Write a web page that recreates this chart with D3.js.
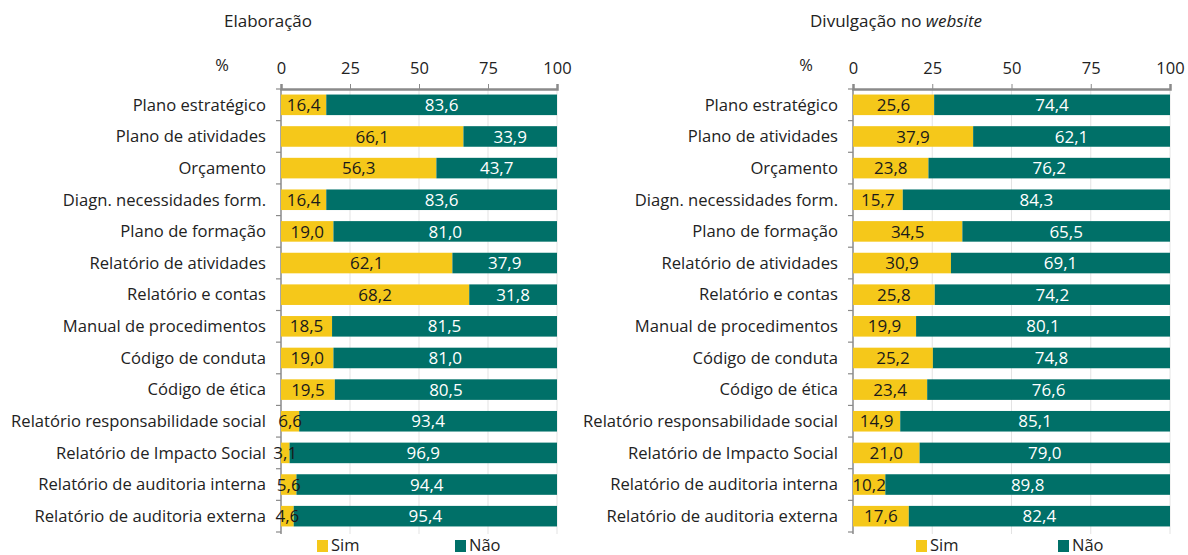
<!DOCTYPE html>
<html>
<head>
<meta charset="utf-8">
<script src="https://cdn.jsdelivr.net/npm/d3@7"></script>
<style>
  body { margin: 0; background: #fff; }
  svg text { font-family: "Open Sans", Lato, sans-serif; }
</style>
</head>
<body>
<div id="chart"></div>
<script>
// categories (top to bottom)
var categories = [
  "Plano estratégico", "Plano de atividades", "Orçamento", "Diagn. necessidades form.",
  "Plano de formação", "Relatório de atividades", "Relatório e contas", "Manual de procedimentos",
  "Código de conduta", "Código de ética", "Relatório responsabilidade social",
  "Relatório de Impacto Social", "Relatório de auditoria interna", "Relatório de auditoria externa"
];

// Elaboração
var elabSim = [16.4, 66.1, 56.3, 16.4, 19.0, 62.1, 68.2, 18.5, 19.0, 19.5, 6.6, 3.1, 5.6, 4.6];
var elabNao = [83.6, 33.9, 43.7, 83.6, 81.0, 37.9, 31.8, 81.5, 81.0, 80.5, 93.4, 96.9, 94.4, 95.4];

// Divulgação no website
var divSim = [25.6, 37.9, 23.8, 15.7, 34.5, 30.9, 25.8, 19.9, 25.2, 23.4, 14.9, 21.0, 10.2, 17.6];
var divNao = [74.4, 62.1, 76.2, 84.3, 65.5, 69.1, 74.2, 80.1, 74.8, 76.6, 85.1, 79.0, 89.8, 82.4];

var xTicks = [0, 25, 50, 75, 100];
var seriesNames = ["Sim", "Não"];

var yellow = "#f5c81a";
var teal = "#007068";

var width = 1188, height = 555;
var svg = d3.select("#chart").append("svg")
    .attr("width", width)
    .attr("height", height);

function fmt(v) { return v.toFixed(1).replace(".", ","); }

function drawPanel(p) {
  var g = svg.append("g");

  var x = d3.scaleLinear().domain([0, 100]).range([p.x0, p.x1]);
  var y = d3.scaleBand().domain(categories).range([89, 532]).paddingInner(0.35).paddingOuter(0.175);

  // title
  var t = g.append("text")
      .attr("x", p.titleX).attr("y", 27)
      .attr("text-anchor", "middle")
      .style("font-size", "17px").style("fill", "#222");
  t.append("tspan").text(p.title);
  if (p.titleItalic) t.append("tspan").style("font-style", "italic").text(p.titleItalic);

  // grid
  g.selectAll(".grid").data(xTicks.slice(1)).enter().append("line")
      .attr("x1", d => x(d)).attr("x2", d => x(d))
      .attr("y1", 89).attr("y2", 534)
      .attr("stroke", "#e3e3e3").attr("stroke-width", 1);

  // top axis
  var axis = g.append("g").attr("transform", "translate(0,89)")
      .call(d3.axisTop(x).tickValues(xTicks).tickSize(5).tickPadding(10));
  axis.select(".domain").attr("stroke", "#8a8a8a").attr("stroke-width", 2.5);
  axis.selectAll(".tick line").attr("stroke", "#8a8a8a");
  axis.selectAll(".tick text").style("font-size", "16.5px").style("fill", "#222")
      .style("font-family", "'Open Sans', sans-serif");
  g.append("text").attr("x", p.pctX).attr("y", 71).attr("text-anchor", "middle")
      .style("font-size", "16.5px").style("fill", "#222").text("%");

  // left axis line with ticks between categories
  g.append("line").attr("x1", p.x0).attr("x2", p.x0).attr("y1", 89).attr("y2", 534)
      .attr("stroke", "#8a8a8a").attr("stroke-width", 1.5);
  g.selectAll(".ytick").data(d3.range(categories.length + 1)).enter().append("line")
      .attr("x1", p.x0 - 5).attr("x2", p.x0)
      .attr("y1", i => 89 + i * (443 / categories.length))
      .attr("y2", i => 89 + i * (443 / categories.length))
      .attr("stroke", "#8a8a8a").attr("stroke-width", 1.2);

  // category labels
  g.selectAll(".cat").data(categories).enter().append("text")
      .attr("x", p.x0 - 15).attr("y", d => y(d) + y.bandwidth() / 2)
      .attr("dy", "0.35em").attr("text-anchor", "end")
      .style("font-size", "16.6px").style("fill", "#222")
      .text(d => d);

  // bars
  var rows = categories.map((c, i) => ({ cat: c, sim: p.sim[i], nao: p.nao[i] }));
  g.selectAll(".sim").data(rows).enter().append("rect")
      .attr("x", x(0)).attr("y", d => y(d.cat))
      .attr("width", d => x(d.sim) - x(0)).attr("height", y.bandwidth())
      .attr("fill", yellow);
  g.selectAll(".nao").data(rows).enter().append("rect")
      .attr("x", d => x(d.sim)).attr("y", d => y(d.cat))
      .attr("width", d => x(d.sim + d.nao) - x(d.sim)).attr("height", y.bandwidth())
      .attr("fill", teal);

  // value labels
  g.selectAll(".lsim").data(rows).enter().append("text")
      .attr("x", d => x(d.sim / 2)).attr("y", d => y(d.cat) + y.bandwidth() / 2)
      .attr("dy", "0.36em").attr("text-anchor", "middle")
      .style("font-size", "17px").style("fill", "#1a1a1a")
      .text(d => fmt(d.sim));
  g.selectAll(".lnao").data(rows).enter().append("text")
      .attr("x", d => x(d.sim + d.nao / 2)).attr("y", d => y(d.cat) + y.bandwidth() / 2)
      .attr("dy", "0.36em").attr("text-anchor", "middle")
      .style("font-size", "17px").style("fill", "#ffffff")
      .text(d => fmt(d.nao));

  // legend
  var lg = g.selectAll(".leg").data(seriesNames).enter().append("g")
      .attr("transform", (d, i) => "translate(" + p.legendX[i] + ",540)");
  lg.append("rect").attr("width", 11).attr("height", 12)
      .attr("fill", (d, i) => i === 0 ? yellow : teal);
  lg.append("text").attr("x", 14).attr("y", 11)
      .style("font-size", "16.5px").style("fill", "#222").text(d => d);
}

drawPanel({
  title: "Elaboração", titleItalic: null, titleX: 268,
  x0: 281, x1: 557, pctX: 222,
  sim: elabSim, nao: elabNao,
  legendX: [317, 455]
});

drawPanel({
  title: "Divulgação no ", titleItalic: "website", titleX: 896,
  x0: 853, x1: 1170, pctX: 806,
  sim: divSim, nao: divNao,
  legendX: [916, 1058]
});
</script>
</body>
</html>
